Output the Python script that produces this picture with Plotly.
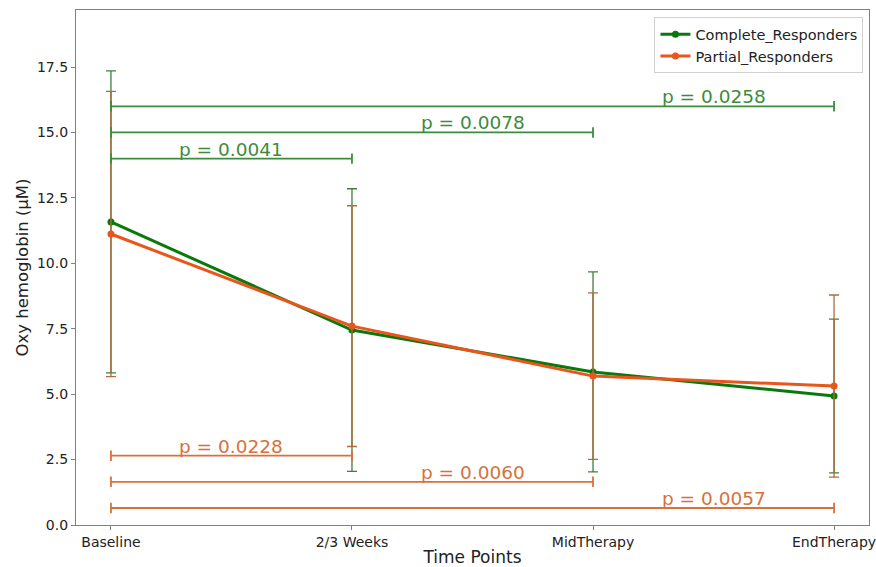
import plotly.graph_objects as go

time_points = ["Baseline", "2/3 Weeks", "MidTherapy", "EndTherapy"]
complete_mean = [11.58, 7.45, 5.85, 4.93]
complete_err = [5.77, 5.40, 3.82, 2.94]
partial_mean = [11.12, 7.60, 5.69, 5.31]
partial_err = [5.45, 4.60, 3.18, 3.48]

complete_pairs = [(0, 1), (0, 2), (0, 3)]
complete_levels = [14.0, 15.0, 16.0]
complete_pvals = ["p = 0.0041", "p = 0.0078", "p = 0.0258"]
partial_pairs = [(0, 1), (0, 2), (0, 3)]
partial_levels = [2.65, 1.65, 0.65]
partial_pvals = ["p = 0.0228", "p = 0.0060", "p = 0.0057"]

GREEN = "#0b780b"
ORANGE = "#e8561c"
GREEN_ERR = "#3f7f3a"
ORANGE_ERR = "#b06a3c"
GREEN_BR = "#3d8c3d"
ORANGE_BR = "#d9703c"

xs = list(range(len(time_points)))
fig = go.Figure()

fig.add_trace(go.Scatter(
    x=xs, y=complete_mean, mode="lines+markers", name="Complete_Responders",
    line=dict(color=GREEN, width=3), marker=dict(color=GREEN, size=7),
    error_y=dict(type="data", array=complete_err, color=GREEN_ERR, thickness=1.3, width=5),
))
fig.add_trace(go.Scatter(
    x=xs, y=partial_mean, mode="lines+markers", name="Partial_Responders",
    line=dict(color=ORANGE, width=3), marker=dict(color=ORANGE, size=7),
    error_y=dict(type="data", array=partial_err, color=ORANGE_ERR, thickness=1.3, width=5),
))

cap = 0.2
def bracket(pairs, levels, pvals, color):
    for (a, b), lvl, txt in zip(pairs, levels, pvals):
        fig.add_trace(go.Scatter(
            x=[a, a, None, a, b, None, b, b],
            y=[lvl - cap, lvl + cap, None, lvl, lvl, None, lvl - cap, lvl + cap],
            mode="lines", line=dict(color=color, width=1.8),
            showlegend=False, hoverinfo="skip",
        ))
        fig.add_annotation(
            x=b - 0.5, y=lvl, text=txt, showarrow=False, yanchor="bottom", yshift=-3,
            font=dict(family="DejaVu Sans", size=18.5, color=color),
        )

bracket(complete_pairs, complete_levels, complete_pvals, GREEN_BR)
bracket(partial_pairs, partial_levels, partial_pvals, ORANGE_BR)

fig.update_layout(
    width=876, height=567,
    margin=dict(l=76, r=7, t=10, b=42, autoexpand=False),
    paper_bgcolor="white", plot_bgcolor="white",
    font=dict(family="DejaVu Sans", color="#222222", size=14),
    legend=dict(
        x=0.993, y=0.986, xanchor="right", yanchor="top",
        bgcolor="white", bordercolor="#d0d0d0", borderwidth=1,
        font=dict(size=14.5, color="#222222"), tracegroupgap=2,
    ),
    xaxis=dict(
        range=[-0.145, 3.145], tickvals=xs, ticktext=time_points,
        showgrid=False, zeroline=False, showline=True, mirror=True,
        linecolor="#808080", linewidth=1.2, ticks="outside", ticklen=4,
        tickcolor="#808080", tickfont=dict(size=14), automargin=False,
        ticklabeloverflow="allow",
        title=dict(text="Time Points", font=dict(size=17), standoff=2),
    ),
    yaxis=dict(
        range=[0, 19.68], tickvals=[0, 2.5, 5, 7.5, 10, 12.5, 15, 17.5],
        tickformat=".1f", showgrid=False, zeroline=False, showline=True, mirror=True,
        linecolor="#808080", linewidth=1.2, ticks="outside", ticklen=4,
        tickcolor="#808080", tickfont=dict(size=14), automargin=False,
        title=dict(text="Oxy hemoglobin (µM)", font=dict(size=16.5), standoff=4),
    ),
)

fig.write_html(
    "out.html",
    config={"displayModeBar": False},
    post_script="document.body.style.margin='0';document.body.style.overflow='hidden';",
)
